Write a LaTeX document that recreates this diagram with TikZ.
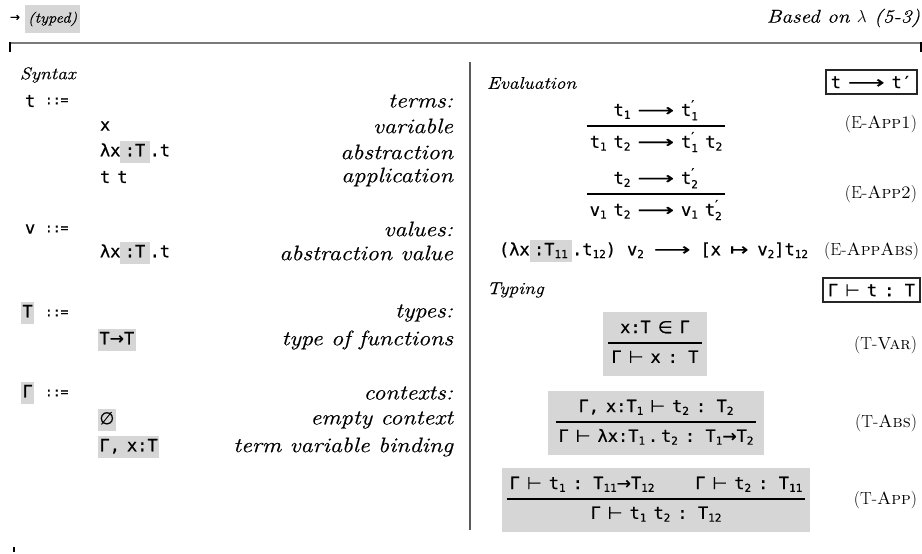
\documentclass[tikz,border=0pt]{standalone}
\usepackage{fontspec}
\newfontfamily\tmf{DejaVu Sans Mono}[FakeBold=0.6]
\newfontfamily\syf{DejaVu Sans}[FakeBold=0.4]
\newfontfamily\itf{Latin Modern Roman}[FakeStretch=1.15,FakeBold=0.4]
\definecolor{hlgray}{HTML}{D6D6D6}
\definecolor{rulegray}{HTML}{7A7A7A}
\definecolor{divgray}{HTML}{5A5A5A}
\newcommand\labfont{\fontsize{21}{24}\selectfont\itf\itshape}
\newcommand\headfont{\fontsize{17}{20}\selectfont\itf\itshape}
\newcommand\hdfont{\fontsize{14.5}{17}\selectfont\itf\itshape}
\newcommand\termfont{\fontsize{17}{20}\selectfont\tmf\spaceskip=7pt\relax}
\newcommand\rnfont{\fontsize{17.5}{21}\selectfont}
\newcommand\tsb[1]{\raisebox{-0.3ex}{\fontsize{11}{11}\selectfont #1}}
\newcommand\tsp[1]{$^{\mbox{\syf\fontsize{13}{13}\selectfont ′}}_{\mbox{\fontsize{11}{11}\selectfont #1}}$}
\newcommand\evar{{\syf\scalebox{1.5}[1]{⟶}}}
\newcommand\tar{{\syf →}}
\newcommand\mapar{{\syf\scalebox{1.3}[1]{↦}}}
\newcommand\turn{{\syf ⊢}}
\newcommand\inG{{\syf ∈}}
\newcommand\emp{{\syf ∅}}
\newcommand\hlb[1]{{\setlength\fboxsep{1.5pt}\colorbox{hlgray}{\rule[-0.3em]{0pt}{1.1em}#1}}}
\newlength\infgap
\setlength\infgap{19pt}
\newcommand\infr[2]{\setlength\arrayrulewidth{1.8pt}\begin{tabular}{@{\hspace{3pt}}c@{\hspace{3pt}}}#1\\[3pt]\hline\rule{0pt}{\infgap}#2\end{tabular}}
\begin{document}
\begin{tikzpicture}[x=1pt,y=-1pt,
  every node/.style={inner sep=0pt,outer sep=0pt},
  lab/.style={font=\labfont,anchor=east},
  head/.style={font=\headfont,anchor=west},
  term/.style={font=\termfont,anchor=west},
  defs/.style={font=\tmf\fontsize{13}{15}\selectfont,anchor=west},
  rname/.style={font=\rnfont,anchor=east},
  judg/.style={draw=black!85,line width=1.8pt,inner xsep=5pt,inner ysep=6pt,font=\termfont,anchor=east},
  rulebox/.style={fill=hlgray,inner xsep=5pt,inner ysep=7pt,font=\termfont},
  plainrule/.style={font=\termfont\setlength\infgap{21pt}}]
\useasboundingbox (0,0) rectangle (922,554);
% header
\node[font=\syf\fontsize{12}{14}\selectfont,anchor=west] (hdarrow) at (10,18) {→};
\node[fill=hlgray,inner xsep=3pt,inner ysep=6.5pt,font=\hdfont,anchor=west] (typed) at (25,19) {(typed)};
\node[font=\headfont\fontsize{18.5}{21}\selectfont,anchor=east] (based) at (920,18) {Based on $\lambda$ (5-3)};
\coordinate (rl) at (9,43);
\coordinate (rr) at (922,43);
\coordinate (tl) at (10,52);
\coordinate (tr) at (921,52);
\draw[rulegray,line width=2.5pt] (rl) -- (rr);
\draw[line width=2pt] (10,42) -- (tl);
\draw[line width=2pt] (921,42) -- (tr);
\coordinate (bt1) at (14,547);
\coordinate (bt2) at (14,552);
\draw[line width=2pt] (bt1) -- (bt2);
% divider
\coordinate (dv1) at (470,62);
\coordinate (dv2) at (470,530);
\draw[divgray,line width=1.6pt] (dv1) -- (dv2);
% ---------- syntax ----------
\node[head] (syntax) at (20,75) {Syntax};
\node[term] (mt) at (25,101) {t};
\node[defs] (d1) at (45,101) {::=};
\node[lab] (l1) at (453,101) {terms:};
\node[term] (t1) at (100,126) {x};
\node[lab] (l2) at (453,126) {variable};
\node[term] (t2) at (100,152) {λx\hlb{\,:T\,}.t};
\node[lab] (l3) at (453,152) {abstraction};
\node[term] (t3) at (100,177) {t t};
\node[lab] (l4) at (453,177) {application};
\node[term] (mv) at (25,229) {v};
\node[defs] (d2) at (45,229) {::=};
\node[lab] (l5) at (453,229) {values:};
\node[term] (t4) at (100,253) {λx\hlb{\,:T\,}.t};
\node[lab] (l6) at (453,253) {abstraction value};
\node[term] (mT) at (21,313) {\hlb{T}};
\node[defs] (d3) at (45,313) {::=};
\node[lab] (l7) at (453,313) {types:};
\node[term] (t5) at (98,340) {\hlb{T\tar{}T}};
\node[lab] (l8) at (453,340) {type of functions};
\node[term] (mG) at (21,393) {\hlb{Γ}};
\node[defs] (d4) at (45,393) {::=};
\node[lab] (l9) at (453,393) {contexts:};
\node[term] (t6) at (98,420) {\hlb{\emp}};
\node[lab] (l10) at (453,420) {empty context};
\node[term] (t7) at (98,447) {\hlb{Γ, x:T}};
\node[lab] (l11) at (453,447) {term variable binding};
% ---------- evaluation ----------
\node[head] (eval) at (487,83) {Evaluation};
\node[judg] (jev) at (917,82) {t \evar{} t′};
\node[plainrule] (eapp1) at (656,127) {\infr{t\tsb{1} \evar{} t\tsp{1}}{t\tsb{1} t\tsb{2} \evar{} t\tsp{1} t\tsb{2}}};
\node[rname] (neapp1) at (917,124) {(E-\textsc{App1})};
\node[plainrule] (eapp2) at (656,195) {\infr{t\tsb{2} \evar{} t\tsp{2}}{v\tsb{1} t\tsb{2} \evar{} v\tsb{1} t\tsp{2}}};
\node[rname] (neapp2) at (917,194) {(E-\textsc{App2})};
\node[term] (eappabs) at (499,251) {(λx\hlb{\,:T\tsb{11}\,}.t\tsb{12})\hspace{4pt} v\tsb{2}\hspace{3pt} \evar{}\hspace{3pt} [x\hspace{2pt} \mapar{}\hspace{2pt} v\tsb{2}]t\tsb{12}};
\node[rname] (neappabs) at (919,251) {(E-\textsc{AppAbs})};
% ---------- typing ----------
\node[head] (typing) at (487,290) {Typing};
\node[judg] (jty) at (920,290) {Γ \turn{} t : T};
\node[rulebox] (tvar) at (655,344) {\infr{x:T \inG{} Γ}{Γ \turn{} x : T}};
\node[rname] (ntvar) at (917,345) {(T-\textsc{Var})};
\node[rulebox,inner xsep=8pt] (tabs) at (656,423) {\infr{Γ, x:T\tsb{1} \turn{} t\tsb{2} : T\tsb{2}}{Γ \turn{} λx:T\tsb{1}\,.\,t\tsb{2} : T\tsb{1}\tar{}T\tsb{2}}};
\node[rname] (ntabs) at (917,423) {(T-\textsc{Abs})};
\node[rulebox] (tapp) at (656,500) {\infr{Γ \turn{} t\tsb{1} : T\tsb{11}\tar{}T\tsb{12}\hspace{2.4em}Γ \turn{} t\tsb{2} : T\tsb{11}}{Γ \turn{} t\tsb{1} t\tsb{2} : T\tsb{12}}};
\node[rname] (ntapp) at (917,500) {(T-\textsc{App})};
\end{tikzpicture}
\end{document}
